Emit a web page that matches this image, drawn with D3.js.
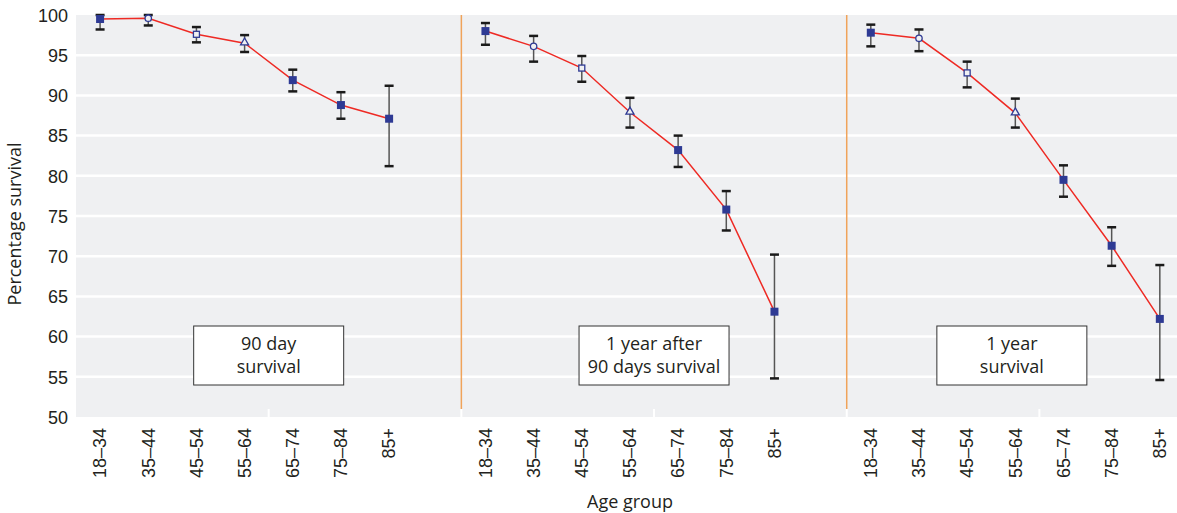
<!DOCTYPE html>
<html>
<head>
<meta charset="utf-8">
<script src="https://cdn.jsdelivr.net/npm/d3@7"></script>
<style>
  body { margin: 0; background: #fff; }
  svg { font-family: "Open Sans", "Noto Sans", sans-serif; }
  .axis text { font-size: 18px; fill: #231f20; }
  .axis path, .axis line { display: none; }
</style>
</head>
<body>
<div id="chart"></div>
<script>
// survival by age group, three periods
var ageGroups = ["18–34", "35–44", "45–54", "55–64", "65–74", "75–84", "85+"];
var panelLabels = [["90 day", "survival"], ["1 year after", "90 days survival"], ["1 year", "survival"]];
var yTicks = [50, 55, 60, 65, 70, 75, 80, 85, 90, 95, 100];

var survival90d      = [99.5, 99.6, 97.6, 96.5, 91.9, 88.8, 87.1];
var survival90dLow   = [98.2, 98.7, 96.6, 95.4, 90.5, 87.1, 81.2];
var survival90dHigh  = [100.0, 100.0, 98.5, 97.5, 93.2, 90.4, 91.2];

var survivalAfter    = [98.0, 96.1, 93.4, 87.9, 83.2, 75.8, 63.1];
var survivalAfterLow = [96.3, 94.2, 91.7, 86.0, 81.1, 73.2, 54.8];
var survivalAfterHigh= [99.0, 97.4, 94.9, 89.7, 85.0, 78.1, 70.2];

var survival1y       = [97.8, 97.1, 92.8, 87.8, 79.5, 71.3, 62.2];
var survival1yLow    = [96.1, 95.5, 91.0, 86.0, 77.4, 68.8, 54.6];
var survival1yHigh   = [98.8, 98.2, 94.2, 89.6, 81.3, 73.6, 68.9];

var markerTypes = ["filledSquare", "openCircle", "openSquare", "openTriangle", "filledSquare", "filledSquare", "filledSquare"];

(function () {
var W = 1177, H = 513;
var plotTop = 15, plotBottom = 417, plotLeft = 76;
var slotW = 48.17;

var panels = [
  {est: survival90d, lo: survival90dLow, hi: survival90dHigh},
  {est: survivalAfter, lo: survivalAfterLow, hi: survivalAfterHigh},
  {est: survival1y, lo: survival1yLow, hi: survival1yHigh}
];

// one band per age group per panel, plus an empty slot closing each panel
var keys = [];
panels.forEach(function(p, pi) {
  ageGroups.forEach(function(g) { keys.push(pi + "|" + g); });
  keys.push(pi + "|gap");
});

var x = d3.scaleBand()
    .domain(keys)
    .range([plotLeft, plotLeft + keys.length * slotW]);

var y = d3.scaleLinear()
    .domain([50, 100])
    .range([plotBottom, plotTop]);

var svg = d3.select("#chart").append("svg")
    .attr("width", W)
    .attr("height", H);

svg.append("rect")
    .attr("x", plotLeft).attr("y", plotTop)
    .attr("width", W - plotLeft).attr("height", plotBottom - plotTop)
    .attr("fill", "#eff0f2");

// gridlines
svg.append("g").selectAll("line")
    .data(yTicks.filter(function(d) { return d > 50 && d < 100; }))
  .enter().append("line")
    .attr("x1", plotLeft).attr("x2", W)
    .attr("y1", function(d) { return y(d); })
    .attr("y2", function(d) { return y(d); })
    .attr("stroke", "#fff")
    .attr("stroke-width", 2.5);

// panel separators and bottom ticks
var panelStart = function(pi) { return x(pi + "|" + ageGroups[0]); };
var panelEnd = function(pi) { return x(pi + "|gap") + x.bandwidth(); };

svg.append("g").selectAll("line")
    .data([1, 2])
  .enter().append("line")
    .attr("x1", function(d) { return panelStart(d); })
    .attr("x2", function(d) { return panelStart(d); })
    .attr("y1", plotTop).attr("y2", plotBottom - 8)
    .attr("stroke", "#f0a35a")
    .attr("stroke-width", 1.5);

var tickXs = [];
panels.forEach(function(p, pi) {
  if (pi > 0) tickXs.push(panelStart(pi));
  tickXs.push((panelStart(pi) + panelEnd(pi)) / 2);
});
svg.append("g").selectAll("line")
    .data(tickXs)
  .enter().append("line")
    .attr("x1", function(d) { return d; })
    .attr("x2", function(d) { return d; })
    .attr("y1", plotBottom - 8).attr("y2", plotBottom)
    .attr("stroke", "#fff")
    .attr("stroke-width", 2);

// y axis
svg.append("g")
    .attr("class", "axis")
    .attr("transform", "translate(" + plotLeft + ",0)")
    .call(d3.axisLeft(y).tickValues(yTicks).tickSize(0).tickPadding(8))
  .selectAll("text")
    .attr("dy", "0.35em");

svg.append("text")
    .attr("transform", "translate(21," + ((plotTop + plotBottom) / 2 + 8) + ") rotate(-90)")
    .attr("text-anchor", "middle")
    .style("font-size", "18px")
    .attr("fill", "#231f20")
    .text("Percentage survival");

// x axis
var xAxis = d3.axisBottom(x)
    .tickValues(keys.filter(function(k) { return k.split("|")[1] !== "gap"; }))
    .tickFormat(function(k) { return k.split("|")[1]; })
    .tickSize(0);

svg.append("g")
    .attr("class", "axis")
    .attr("transform", "translate(0," + plotBottom + ")")
    .call(xAxis)
  .selectAll("text")
    .attr("transform", "rotate(-90)")
    .attr("x", -11)
    .attr("y", 0)
    .attr("dy", "0.35em")
    .style("text-anchor", "end");

svg.append("text")
    .attr("x", 630).attr("y", 508)
    .attr("text-anchor", "middle")
    .style("font-size", "18px")
    .attr("fill", "#231f20")
    .text("Age group");

// label boxes, centred on the visible part of each panel
panels.forEach(function(p, pi) {
  var cx = (panelStart(pi) + Math.min(panelEnd(pi), W)) / 2;
  var g = svg.append("g");
  g.append("rect")
      .attr("x", cx - 75).attr("y", 326)
      .attr("width", 150).attr("height", 59)
      .attr("fill", "#fff")
      .attr("stroke", "#333")
      .attr("stroke-width", 1);
  g.selectAll("text")
      .data(panelLabels[pi])
    .enter().append("text")
      .attr("x", cx)
      .attr("y", function(d, i) { return 350 + i * 23; })
      .attr("text-anchor", "middle")
      .style("font-size", "18px")
      .attr("fill", "#231f20")
      .text(function(d) { return d; });
});

var blue = "#2e3a94";

panels.forEach(function(p, pi) {
  var pts = ageGroups.map(function(g, i) {
    return {cx: x(pi + "|" + g) + x.bandwidth() / 2, v: p.est[i], lo: p.lo[i], hi: p.hi[i], m: markerTypes[i]};
  });
  var g = svg.append("g");

  // error bars
  var eb = g.selectAll(".eb").data(pts).enter().append("g");
  eb.append("line")
      .attr("x1", function(d) { return d.cx; })
      .attr("x2", function(d) { return d.cx; })
      .attr("y1", function(d) { return y(d.lo); })
      .attr("y2", function(d) { return y(d.hi); })
      .attr("stroke", "#555")
      .attr("stroke-width", 1.5);
  ["lo", "hi"].forEach(function(k) {
    eb.append("line")
        .attr("x1", function(d) { return d.cx - 4.5; })
        .attr("x2", function(d) { return d.cx + 4.5; })
        .attr("y1", function(d) { return y(d[k]); })
        .attr("y2", function(d) { return y(d[k]); })
        .attr("stroke", "#1a1a1a")
        .attr("stroke-width", 2.5);
  });

  g.append("path")
      .datum(pts)
      .attr("fill", "none")
      .attr("stroke", "#ee2a24")
      .attr("stroke-width", 1.5)
      .attr("d", d3.line()
        .x(function(d) { return d.cx; })
        .y(function(d) { return y(d.v); }));

  pts.forEach(function(d) {
    var px = d.cx, py = y(d.v);
    if (d.m === "filledSquare") {
      g.append("rect").attr("x", px - 4).attr("y", py - 4).attr("width", 8).attr("height", 8)
          .attr("fill", blue);
    } else if (d.m === "openSquare") {
      g.append("rect").attr("x", px - 3).attr("y", py - 3).attr("width", 6).attr("height", 6)
          .attr("fill", "#eff0f2").attr("stroke", blue).attr("stroke-width", 1.3);
    } else if (d.m === "openCircle") {
      g.append("circle").attr("cx", px).attr("cy", py).attr("r", 3.2)
          .attr("fill", "#eff0f2").attr("stroke", blue).attr("stroke-width", 1.3);
    } else {
      g.append("path").attr("d", d3.symbol().type(d3.symbolTriangle).size(28)())
          .attr("transform", "translate(" + px + "," + (py - 0.5) + ")")
          .attr("fill", "#eff0f2").attr("stroke", blue).attr("stroke-width", 1.3);
    }
  });
});

})(this);
</script>
</body>
</html>
